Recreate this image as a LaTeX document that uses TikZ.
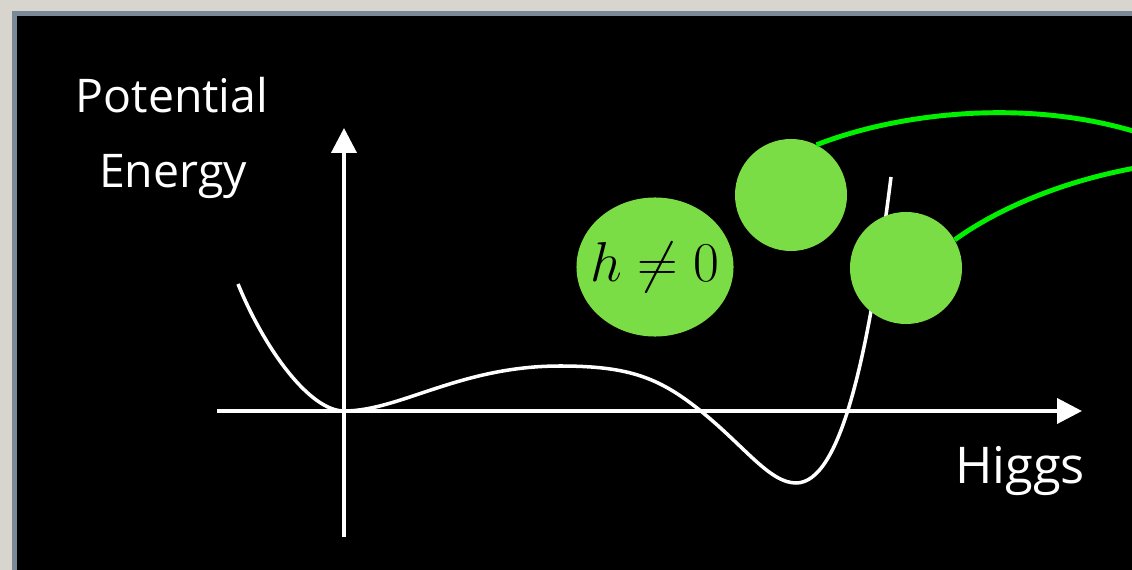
\documentclass[tikz,border=0pt]{standalone}
\usepackage{fix-cm}
\usepackage{fontspec}
\setmainfont{Open Sans}
\usetikzlibrary{arrows.meta, shapes.geometric, positioning}
\definecolor{slabgrey}{RGB}{216,212,206}
\definecolor{framegrey}{RGB}{123,136,152}
\definecolor{ballgreen}{RGB}{122,221,70}
\definecolor{wiregreen}{RGB}{0,240,0}

\begin{document}
\begin{tikzpicture}[
    x=0.025cm, y=-0.025cm,
    axis/.style={white, line width=2.8pt, -{Triangle[length=17.7pt, width=17.7pt]}},
    potline/.style={white, line width=2.5pt},
    ball/.style={circle, fill=ballgreen, minimum size=2.8cm, inner sep=0pt},
    hball/.style={ellipse, fill=ballgreen, minimum width=3.925cm, minimum height=3.475cm, inner sep=0pt},
    wire/.style={wiregreen, line width=3.5pt},
    axislabel/.style={text=white, inner sep=0pt, font=\fontsize{33}{40}\selectfont}
]

    % ================= SLATE AND FRAME =================
    \clip (0,0) rectangle (1132,570);
    \fill[slabgrey] (0,0) rectangle (1132,570);
    \fill[framegrey] (12,11) rectangle (1140,580);
    \fill[black] (17,16) rectangle (1140,580);

    % ================= AXES =================
    \coordinate (XL) at (217,411);
    \coordinate (XR) at (1082,411);
    \coordinate (YB) at (344,537);
    \coordinate (YT) at (344,128);
    \draw[axis] (XL) -- (XR);
    \draw[axis] (YB) -- (YT);

    \node[axislabel, anchor=base] (POT) at (172,113) {Potential};
    \node[axislabel, anchor=base] (ENERGY) at (173,188) {Energy};
    \node[axislabel, anchor=base west, font=\fontsize{36}{42}\selectfont] (HIGGS) at (955,483) {Higgs};

    % ================= POTENTIAL =================
    \draw[potline] (238,284) .. controls (265,350) and (310,411) .. (344,411)
        .. controls (400,411) and (460,366) .. (560,366)
        .. controls (630,366) and (660,378) .. (702,412)
        .. controls (745,447) and (770,483) .. (796,483)
        .. controls (840,483) and (868,360) .. (891,177);

    % ================= BALLS =================
    \node[hball] (HBALL) at (655,267) {};
    \node[inner sep=0pt, font=\fontsize{40}{48}\selectfont] (HTEXT) at (HBALL.center) {$h\neq0$};
    \node[ball] (BALLA) at (791,195) {};
    \node[ball] (BALLB) at (906,268) {};

    % leads running off to the right
    \coordinate (EXITA) at (1160,140);
    \coordinate (EXITB) at (1160,164);
    \draw[wire] (BALLA.63) .. controls (900,112) and (1040,95) .. (EXITA);
    \draw[wire] (BALLB.30) .. controls (990,214) and (1060,178) .. (EXITB);

\end{tikzpicture}
\end{document}
